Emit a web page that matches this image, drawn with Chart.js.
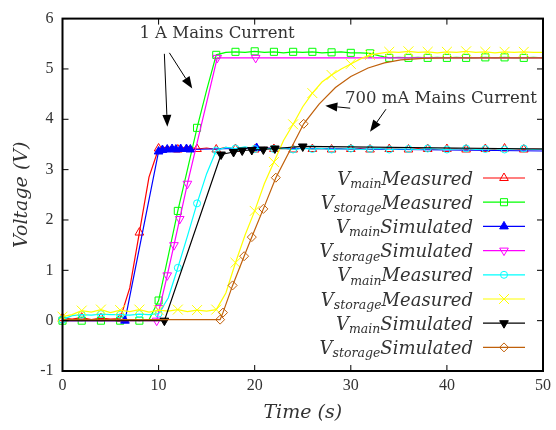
<!DOCTYPE html>
<html>
<head>
<meta charset="utf-8">
<title>Mains and storage voltage</title>
<script src="https://cdn.jsdelivr.net/npm/chart.js@4.4.1/dist/chart.umd.min.js"></script>
<style>
  html, body { margin: 0; padding: 0; background: #fff; }
  canvas { display: block; }
</style>
</head>
<body>
<canvas id="voltChart" width="556" height="430"></canvas>
<script>
// Measured runs, one sample per second
const tMeas = [
  0, 1, 2, 3, 4, 5, 6, 7, 8, 9,
  10, 11, 12, 13, 14, 15, 16, 17, 18, 19,
  20, 21, 22, 23, 24, 25, 26, 27, 28, 29,
  30, 31, 32, 33, 34, 35, 36, 37, 38, 39,
  40, 41, 42, 43, 44, 45, 46, 47, 48, 49,
  50
];

// 1 A mains current
const mainMeas1A = [
  0.05, 0.03, 0.06, 0.02, 0.05, 0.03, 0.04, 0.65, 1.75, 2.85,
  3.42, 3.45, 3.40, 3.46, 3.41, 3.43, 3.40, 3.44, 3.41, 3.43,
  3.40, 3.44, 3.41, 3.42, 3.40, 3.43, 3.41, 3.42, 3.40, 3.42,
  3.41, 3.42, 3.40, 3.42, 3.41, 3.41, 3.40, 3.42, 3.41, 3.40,
  3.41, 3.42, 3.40, 3.41, 3.41, 3.40, 3.42, 3.41, 3.40, 3.41,
  3.41
];
const storeMeas1A = [
  0.00, 0.01, 0.00, 0.02, 0.00, 0.01, 0.00, 0.02, 0.00, 0.02,
  0.40, 1.28, 2.18, 3.00, 3.83, 4.58, 5.28, 5.33, 5.34, 5.33,
  5.35, 5.33, 5.34, 5.32, 5.34, 5.33, 5.34, 5.32, 5.33, 5.34,
  5.32, 5.32, 5.31, 5.26, 5.22, 5.23, 5.22, 5.23, 5.22, 5.23,
  5.22, 5.23, 5.22, 5.22, 5.23, 5.22, 5.23, 5.22, 5.22, 5.23,
  5.22
];

// 700 mA mains current
const mainMeas700 = [
  0.02, 0.10, 0.12, 0.11, 0.13, 0.12, 0.12, 0.11, 0.13, 0.12,
  0.14, 0.45, 1.05, 1.68, 2.33, 2.92, 3.38, 3.44, 3.42, 3.45,
  3.41, 3.43, 3.41, 3.42, 3.40, 3.42, 3.41, 3.42, 3.40, 3.41,
  3.42, 3.40, 3.41, 3.42, 3.40, 3.41, 3.41, 3.40, 3.42, 3.41,
  3.40, 3.41, 3.42, 3.40, 3.41, 3.41, 3.40, 3.41, 3.42, 3.40,
  3.41
];
const storeMeas700 = [
  0.08, 0.12, 0.20, 0.17, 0.22, 0.16, 0.21, 0.18, 0.22, 0.17,
  0.21, 0.19, 0.22, 0.18, 0.21, 0.19, 0.22, 0.55, 1.15, 1.70,
  2.18, 2.72, 3.15, 3.58, 3.90, 4.25, 4.52, 4.74, 4.88, 5.00,
  5.10, 5.20, 5.28, 5.31, 5.34, 5.33, 5.35, 5.33, 5.34, 5.32,
  5.34, 5.33, 5.35, 5.33, 5.34, 5.32, 5.34, 5.33, 5.34, 5.33,
  5.33
];

// Simulated runs (solver output points)
const mainSimT1A = [0, 6.5, 10.0, 10.4, 10.9, 11.4, 11.8, 12.3, 12.9, 13.3, 20.2, 50];
const mainSim1A  = [0, 0, 3.36, 3.39, 3.40, 3.41, 3.40, 3.41, 3.41, 3.40, 3.43, 3.37];

const storeSimT1A = [0, 9.8, 10.1, 10.9, 11.6, 12.2, 13.0, 16.1, 20.1, 50];
const storeSim1A  = [0, 0, 0.25, 0.90, 1.50, 2.02, 2.72, 5.22, 5.22, 5.22];

const mainSimT700 = [0, 10.6, 16.5, 17.8, 18.7, 19.7, 20.9, 22.1, 25.0, 50];
const mainSim700  = [0, 0, 3.30, 3.35, 3.38, 3.39, 3.40, 3.42, 3.46, 3.41];

const storeSimT700 = [0, 16.4, 16.7, 17.7, 18.9, 19.7, 20.9, 22.2, 25.1, 26.7, 28.4, 30.0, 31.8, 33.5, 35.2, 37.5, 40.0, 50];
const storeSim700  = [0.02, 0.02, 0.16, 0.70, 1.28, 1.66, 2.22, 2.84, 3.91, 4.30, 4.63, 4.85, 5.02, 5.12, 5.18, 5.21, 5.22, 5.22];

// Key text: subscript and run kind
const keySubs  = ['main', 'storage', 'main', 'storage', 'main', 'storage', 'main', 'storage'];
const keyKinds = ['Measured', 'Measured', 'Simulated', 'Simulated', 'Measured', 'Measured', 'Simulated', 'Simulated'];

const toPoints = (ts, vs) => ts.map((t, i) => ({ x: t, y: vs[i] }));

// marker on every second sample of the measured runs
const measRadius = r => c => (c.dataIndex % 2 === 0 && c.dataIndex < 49 ? r : 0);
// marker on the solver points inside (lo, hi)
const simRadius = (r, lo, hi) => c => {
  const x = c.raw ? c.raw.x : 1;
  return x > lo && x < hi ? r : 0;
};

const marks = [
  { color: '#ff0000', style: 'triangle', rot: 0,   r: 5,   filled: false },
  { color: '#00ff00', style: 'rect',     rot: 0,   r: 5,   filled: false },
  { color: '#0000ff', style: 'triangle', rot: 0,   r: 5,   filled: true  },
  { color: '#ff00ff', style: 'triangle', rot: 180, r: 5,   filled: false },
  { color: '#00ffff', style: 'circle',   rot: 0,   r: 3.5, filled: false },
  { color: '#ffff00', style: 'crossRot', rot: 0,   r: 7,   filled: false },
  { color: '#000000', style: 'triangle', rot: 180, r: 5,   filled: true  },
  { color: '#c0600a', style: 'rectRot',  rot: 0,   r: 4.5, filled: false }
];

const seriesData = [
  toPoints(tMeas, mainMeas1A),
  toPoints(tMeas, storeMeas1A),
  toPoints(mainSimT1A, mainSim1A),
  toPoints(storeSimT1A, storeSim1A),
  toPoints(tMeas, mainMeas700),
  toPoints(tMeas, storeMeas700),
  toPoints(mainSimT700, mainSim700),
  toPoints(storeSimT700, storeSim700)
];

const radii = [
  measRadius(marks[0].r),
  measRadius(marks[1].r),
  simRadius(marks[2].r, 0, 50),
  simRadius(marks[3].r, 0, 50),
  measRadius(marks[4].r),
  measRadius(marks[5].r),
  simRadius(marks[6].r, 0, 50),
  simRadius(marks[7].r, 16, 25.5)
];

const datasets = seriesData.map((pts, i) => ({
  label: 'V_' + keySubs[i] + ' ' + keyKinds[i],
  data: pts,
  borderColor: marks[i].color,
  borderWidth: 1.2,
  fill: false,
  tension: 0,
  clip: false,
  order: 7 - i,
  pointStyle: marks[i].style,
  pointRotation: marks[i].rot,
  pointRadius: radii[i],
  pointHoverRadius: radii[i],
  pointBorderWidth: 1,
  pointBorderColor: marks[i].color,
  pointBackgroundColor: marks[i].filled ? marks[i].color : 'rgba(0,0,0,0)'
}));

// box and inward ticks on all four sides
const framePlugin = {
  id: 'frame',
  afterDatasetsDraw(chart) {
    const { ctx, chartArea: a, scales: { x, y } } = chart;
    const len = 6;
    ctx.save();
    ctx.strokeStyle = '#000';
    ctx.lineWidth = 1;
    ctx.beginPath();
    x.ticks.forEach(t => {
      const px = x.getPixelForValue(t.value);
      ctx.moveTo(px, a.bottom); ctx.lineTo(px, a.bottom - len);
      ctx.moveTo(px, a.top); ctx.lineTo(px, a.top + len);
    });
    y.ticks.forEach(t => {
      const py = y.getPixelForValue(t.value);
      ctx.moveTo(a.left, py); ctx.lineTo(a.left + len, py);
      ctx.moveTo(a.right, py); ctx.lineTo(a.right - len, py);
    });
    ctx.stroke();
    ctx.lineWidth = 2;
    ctx.strokeRect(a.left, a.top, a.right - a.left, a.bottom - a.top);
    ctx.restore();
  }
};

// key in the lower right, text right-aligned before the sample
const keyPlugin = {
  id: 'key',
  afterDraw(chart) {
    const { ctx, chartArea: a } = chart;
    const textRight = a.right - 70;
    const lineL = a.right - 60, lineR = a.right - 18, markX = a.right - 39;
    const bigFont = 'italic 18px "DejaVu Serif"';
    const subFont = 'italic 12.5px "DejaVu Serif"';
    ctx.save();
    chart.data.datasets.forEach((ds, i) => {
      const yRow = a.bottom - 193 + i * 24.2;
      ctx.font = bigFont;
      const wV = ctx.measureText('V').width;
      const wK = ctx.measureText(keyKinds[i]).width;
      ctx.font = subFont;
      const wS = ctx.measureText(keySubs[i]).width;
      let x0 = textRight - wK - wS - wV;
      ctx.fillStyle = '#333';
      ctx.textBaseline = 'alphabetic';
      ctx.textAlign = 'left';
      ctx.font = bigFont;
      ctx.fillText('V', x0, yRow + 6.5);
      ctx.font = subFont;
      ctx.fillText(keySubs[i], x0 + wV, yRow + 10);
      ctx.font = bigFont;
      ctx.fillText(keyKinds[i], x0 + wV + wS, yRow + 6.5);

      ctx.strokeStyle = ds.borderColor;
      ctx.lineWidth = 1.2;
      ctx.beginPath();
      ctx.moveTo(lineL, yRow);
      ctx.lineTo(lineR, yRow);
      ctx.stroke();

      const m = marks[i];
      ctx.lineWidth = 1;
      ctx.fillStyle = m.filled ? m.color : 'rgba(0,0,0,0)';
      Chart.helpers.drawPoint(ctx, { pointStyle: m.style, rotation: m.rot, radius: m.r, borderWidth: 1 }, markX, yRow);
    });
    ctx.restore();
  }
};

function arrow(ctx, x1, y1, x2, y2) {
  const ang = Math.atan2(y2 - y1, x2 - x1);
  const hl = 12, hw = 4.5;
  const bx = x2 - hl * Math.cos(ang), by = y2 - hl * Math.sin(ang);
  ctx.beginPath();
  ctx.moveTo(x1, y1);
  ctx.lineTo(bx, by);
  ctx.stroke();
  ctx.beginPath();
  ctx.moveTo(x2, y2);
  ctx.lineTo(bx - hw * Math.sin(ang), by + hw * Math.cos(ang));
  ctx.lineTo(bx + hw * Math.sin(ang), by - hw * Math.cos(ang));
  ctx.closePath();
  ctx.fill();
}

// labels for the two current settings, anchored in data units
const notePlugin = {
  id: 'notes',
  afterDraw(chart) {
    const { ctx, scales: { x, y } } = chart;
    const px = t => x.getPixelForValue(t);
    const py = v => y.getPixelForValue(v);
    ctx.save();
    ctx.font = '16.5px "DejaVu Serif"';
    ctx.fillStyle = '#333';
    ctx.textBaseline = 'alphabetic';
    ctx.fillText('1 A Mains Current', px(8.0), py(5.61));
    ctx.fillText('700 mA Mains Current', px(29.4), py(4.32));
    ctx.strokeStyle = '#000';
    ctx.fillStyle = '#000';
    ctx.lineWidth = 1;
    arrow(ctx, px(10.6), py(5.30), px(10.91), py(3.85));
    arrow(ctx, px(11.12), py(5.32), px(13.5), py(4.61));
    arrow(ctx, px(29.94), py(4.22), px(27.35), py(4.27));
    arrow(ctx, px(33.66), py(4.20), px(32.0), py(3.75));
    ctx.restore();
  }
};

Chart.defaults.font.family = '"Liberation Serif", serif';
Chart.defaults.color = '#333';

const titleFont = { family: '"DejaVu Serif", serif', style: 'italic', size: 19 };

new Chart(document.getElementById('voltChart').getContext('2d'), {
  type: 'line',
  data: { datasets },
  options: {
    responsive: false,
    animation: false,
    events: [],
    layout: { padding: { top: 13, right: 11, left: 0, bottom: 0 } },
    scales: {
      x: {
        type: 'linear',
        min: 0,
        max: 50,
        grid: { display: false, drawTicks: false },
        border: { display: false },
        ticks: { stepSize: 10, padding: 5, font: { size: 16 }, color: '#333' },
        title: { display: true, text: 'Time (s)', font: titleFont, color: '#333', padding: { top: 0, bottom: 6 } },
        afterFit: s => { s.height = 59; }
      },
      y: {
        type: 'linear',
        min: -1,
        max: 6,
        grid: { display: false, drawTicks: false },
        border: { display: false },
        ticks: { stepSize: 1, padding: 9, font: { size: 16 }, color: '#333' },
        title: { display: true, text: 'Voltage (V)', font: titleFont, color: '#333', padding: { top: 11, bottom: 0 } },
        afterFit: s => { s.width = 62.5; }
      }
    },
    plugins: {
      legend: { display: false },
      tooltip: { enabled: false }
    }
  },
  plugins: [framePlugin, keyPlugin, notePlugin]
});
</script>
</body>
</html>
